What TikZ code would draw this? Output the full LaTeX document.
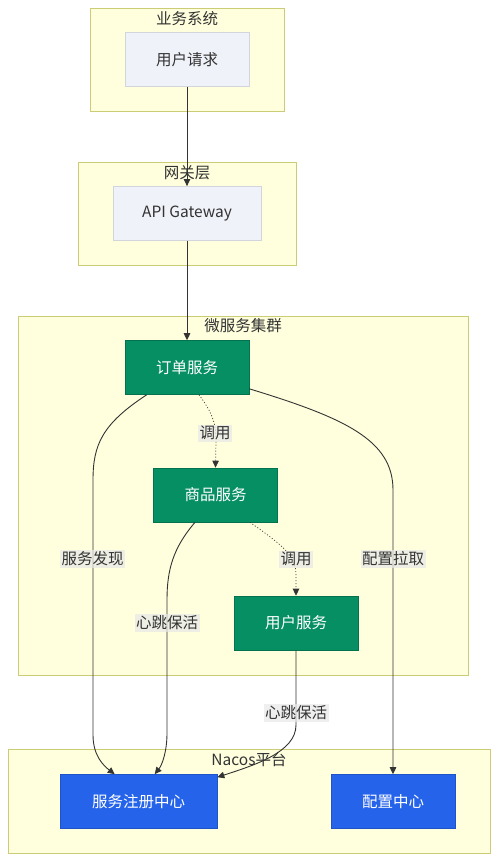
\documentclass[tikz,border=0pt]{standalone}
\usepackage{fontspec}
\setmainfont{Noto Sans CJK SC}
\usetikzlibrary{arrows.meta}
\definecolor{clfill}{HTML}{FFFFDE}
\definecolor{cldraw}{HTML}{CCCC77}
\definecolor{gfill}{HTML}{EFF2F8}
\definecolor{gdraw}{HTML}{D2D5DC}
\definecolor{green}{HTML}{068F63}
\definecolor{blue}{HTML}{2563EB}
\definecolor{ink}{HTML}{333333}
\definecolor{lblbg}{HTML}{E8E8E8}
\tikzset{
  cluster/.style={draw=cldraw, fill=clfill, line width=1pt},
  ctitle/.style={font=\fontsize{15.5}{18}\selectfont, text=ink, inner sep=0pt},
  box/.style={minimum width=124pt, minimum height=54pt, inner sep=0pt, font=\fontsize{15.5}{18}\selectfont},
  graybox/.style={box, fill=gfill, draw=gdraw, line width=0.8pt, text=ink},
  greenbox/.style={box, fill=green, draw=green!80!black, line width=0.6pt, text=white},
  bluebox/.style={box, fill=blue, draw=blue!85!black, line width=0.6pt, text=white},
  edge/.style={draw=ink, line width=0.9pt, -{Triangle[length=7pt,width=6.5pt]}},
  dotedge/.style={edge, line width=0.7pt, dash pattern=on 1pt off 2pt},
  lbl/.style={fill=lblbg, fill opacity=0.7, text opacity=1, text=ink, inner sep=1.5pt, font=\fontsize{15.5}{18}\selectfont}
}
\begin{document}
\begin{tikzpicture}[x=1pt,y=-1pt]
\useasboundingbox (0,0) rectangle (499,862);
% clusters
\draw[cluster] (90,8) rectangle (284,111);
\draw[cluster] (78,162) rectangle (296,265);
\draw[cluster] (18,316) rectangle (468,675);
\draw[cluster] (8,749) rectangle (490,853);
\node[ctitle] (t1) at (187,19) {业务系统};
\node[ctitle] (t2) at (187,173) {网关层};
\node[ctitle] (t3) at (243,326) {微服务集群};
\node[ctitle] (t4) at (249,760) {Nacos平台};
% nodes
\node[graybox] (req) at (187,59.5) {用户请求};
\node[graybox, minimum width=148pt] (gw) at (187,213.5) {API Gateway};
\node[greenbox] (order) at (187,367.5) {订单服务};
\node[greenbox] (goods) at (215.5,495) {商品服务};
\node[greenbox] (user) at (296,623) {用户服务};
\node[bluebox, minimum width=157pt] (reg) at (138.5,801.5) {服务注册中心};
\node[bluebox] (cfg) at (393,801.5) {配置中心};
% edges
\draw[edge] (req.south) -- (gw.north);
\draw[edge] (gw.south) -- (order.north);
\draw[dotedge] ([xshift=12pt]order.south) .. controls (210,410) and (216,420) .. (216,440) -- (goods.north);
\draw[dotedge] ([xshift=34.5pt]goods.south) .. controls (282,545) and (296,555) .. (296,575) -- (user.north);
\draw[edge] ([xshift=22pt]order.south west) .. controls (102,424) and (93,445) .. (93,480) -- (93,735) .. controls (93,756) and (104,766) .. ([xshift=55pt]reg.north west);
\draw[edge] ([xshift=-20.5pt]goods.south) .. controls (173,548) and (167,570) .. (167,600) -- (167,733) .. controls (167,752) and (162,765) .. ([xshift=95pt]reg.north west);
\draw[edge] (user.south) -- (296,725) .. controls (296,752) and (255,765) .. ([yshift=-3pt]reg.north east);
\draw[edge] ([yshift=6pt]order.south east) .. controls (345,418) and (393,440) .. (393,490) -- (cfg.north);
% labels
\node[lbl] (l1) at (215,433) {调用};
\node[lbl] (l2) at (296,559) {调用};
\node[lbl] (l3) at (92.5,559) {服务发现};
\node[lbl] (l4) at (167,623) {心跳保活};
\node[lbl] (l5) at (296,713) {心跳保活};
\node[lbl] (l6) at (393,559) {配置拉取};
\end{tikzpicture}
\end{document}
